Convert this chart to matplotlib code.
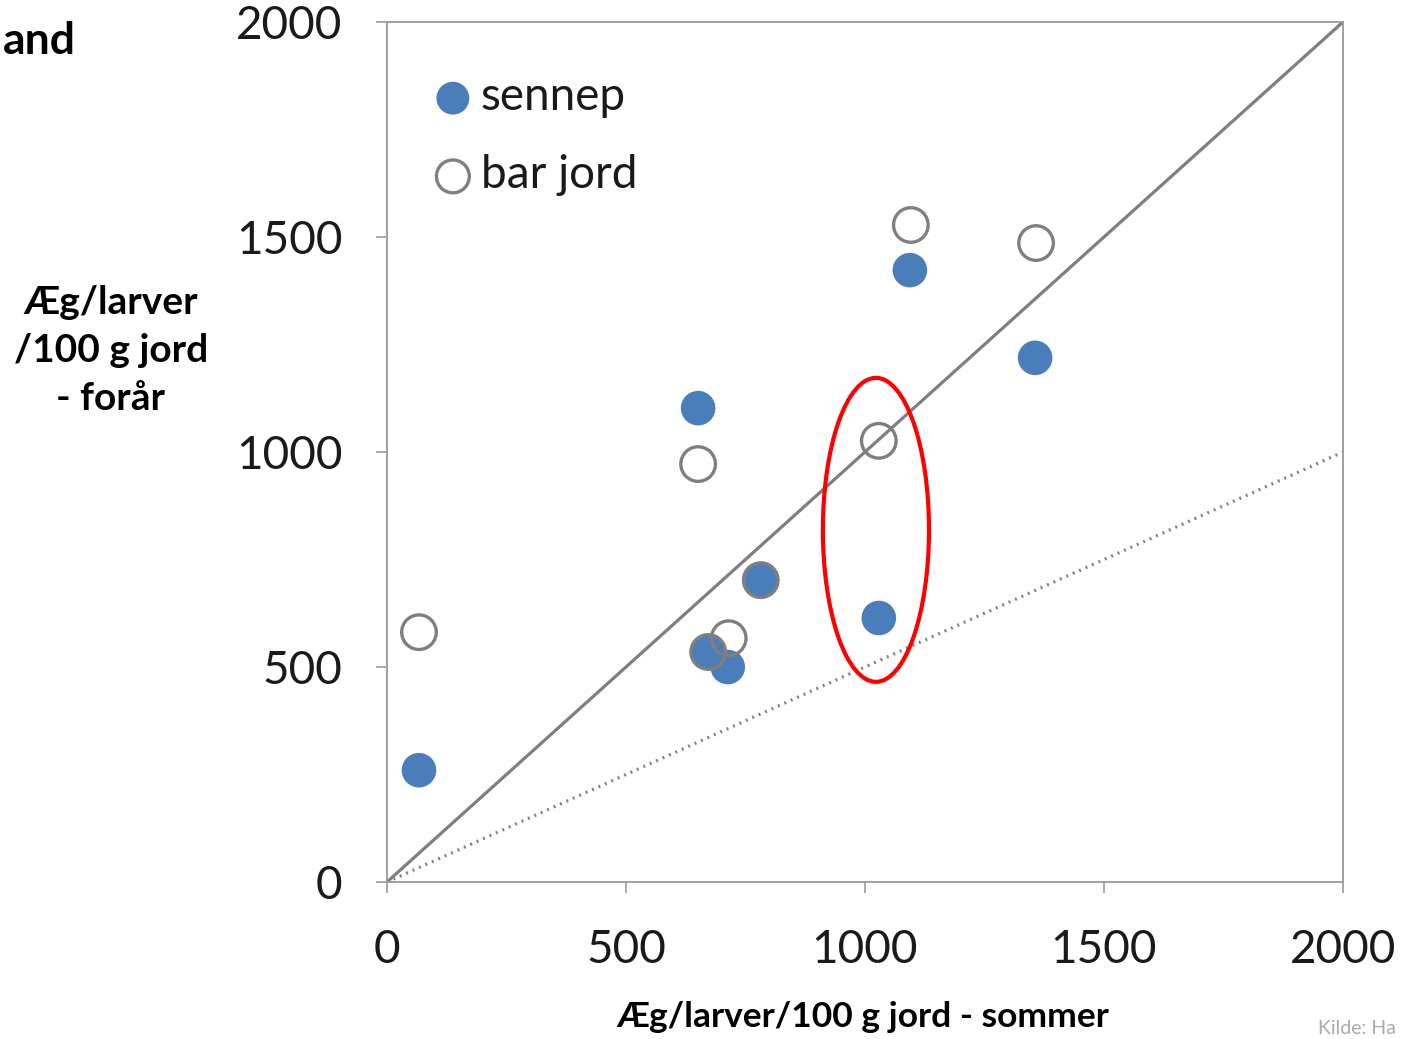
import numpy as np
import matplotlib
matplotlib.use("Agg")
import matplotlib.pyplot as plt
from matplotlib.patches import Ellipse

plt.rcParams['font.family'] = ['Lato', 'DejaVu Sans']

# data (eggs/larvae per 100 g soil)
sennep_sommer = [67, 651, 1094, 1356, 782, 672, 713, 1029]
sennep_foraar = [260, 1102, 1423, 1219, 702, 535, 500, 614]
bar_sommer = [67, 651, 1096, 1358, 1029, 715, 782, 672]
bar_foraar = [581, 972, 1528, 1486, 1026, 567, 702, 535]
ticks = [0, 500, 1000, 1500, 2000]
# reference lines: 1:1 and 2:1
line_x = [0, 2000]
ratio_solid = 1.0
ratio_dotted = 0.5

blue = '#4a7ebb'
grey = '#7f7f7f'

fig = plt.figure(figsize=(14.03, 10.39), dpi=100)
ax = fig.add_axes([0.2758, 0.1511, 0.6814, 0.8277])

ax.plot(line_x, [v * ratio_solid for v in line_x], color=grey, lw=2.3, zorder=2)
ax.plot(line_x, [v * ratio_dotted for v in line_x], color=grey, lw=2.3,
        linestyle=(0, (0.6, 1.6)), zorder=2)

ax.scatter(sennep_sommer, sennep_foraar, s=620, color=blue, edgecolors='none',
           zorder=3, label='sennep')
ax.scatter(bar_sommer, bar_foraar, s=620, facecolors='none', edgecolors=grey,
           linewidths=2.4, zorder=4, label='bar jord')

# red highlight ellipse
ax.add_patch(Ellipse((1023, 819), 222, 707, fill=False, edgecolor='#ff0000',
                     lw=3, zorder=5))

ax.set_xlim(0, 2000)
ax.set_ylim(0, 2000)
ax.set_xticks(ticks)
ax.set_yticks(ticks)
ax.tick_params(axis='both', direction='out', length=8, width=1.2, color='#999999',
               labelsize=33, labelcolor='#1a1a1a')
ax.tick_params(axis='x', pad=26)
ax.tick_params(axis='y', pad=24)
for s in ax.spines.values():
    s.set_color('#999999')
    s.set_linewidth(1.3)

leg = ax.legend(loc='upper left', bbox_to_anchor=(0.045, 0.937), frameon=False,
                fontsize=33, handlelength=1.0, handletextpad=0.11,
                labelspacing=0.79, markerscale=0.95, borderaxespad=0, borderpad=0)
for t in leg.get_texts():
    t.set_color('#1a1a1a')

fig.text(0.079, 0.663, 'Æg/larver\n/100 g jord\n- forår', ha='center', va='center',
         fontsize=28, fontweight='bold', linespacing=1.45)
fig.text(0.002, 0.961, 'and', ha='left', va='center', fontsize=32, fontweight='bold')
fig.text(0.615, 0.021, 'Æg/larver/100 g jord - sommer', ha='center', va='center',
         fontsize=25.5, fontweight='bold')
fig.text(0.995, 0.002, 'Kilde: Ha', ha='right', va='bottom', fontsize=14,
         color='#aaaaaa')

fig.savefig('out.png', dpi=100)
